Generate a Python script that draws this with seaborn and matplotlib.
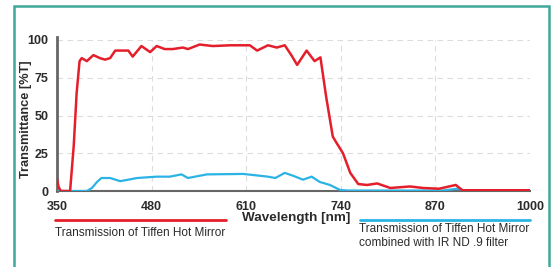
import matplotlib
matplotlib.use("Agg")
import matplotlib.pyplot as plt
import seaborn as sns
import pandas as pd
from matplotlib.lines import Line2D
from matplotlib.patches import Rectangle

# Tiffen Hot Mirror transmission curve
red_wl = [350, 352, 355, 368, 373, 377, 381, 384, 391, 400, 409, 416, 423, 430, 448,
          454, 466, 478, 487, 498, 509, 523, 530, 546, 564, 588, 615, 625, 640, 652,
          663, 672, 680, 693, 704, 712, 720, 729, 734, 743, 753, 764, 776, 790, 808,
          835, 853, 875, 898, 907, 1000]
red_t = [8, 3, 0, 0, 30, 65, 86, 88, 86, 90, 88, 87, 88, 93, 93,
         89, 96, 92, 96, 94, 94, 95, 94, 97, 96, 96.5, 96.5, 93, 96.5, 95,
         96.5, 90, 83.5, 93, 86, 88.5, 62, 36, 32, 25, 12, 4.6, 4, 5, 2,
         3, 2, 1.5, 4, 0.5, 0.5]

# Hot Mirror combined with IR ND .9
blue_wl = [350, 391, 398, 405, 411, 423, 437, 460, 487, 505, 521, 530, 556, 606, 640,
           650, 663, 675, 688, 700, 711, 725, 739, 750, 880, 900, 910, 1000]
blue_t = [0, 0, 2, 6, 8.6, 8.6, 6.5, 8.6, 9.5, 9.5, 11, 8.6, 11, 11.3, 9.5,
          8.6, 12, 10, 7.5, 9.5, 6, 4, 0.7, 0.3, 0.3, 1.5, 0.5, 0.5]

x_ticks = [350, 480, 610, 740, 870, 1000]
y_ticks = [0, 25, 50, 75, 100]

red_label = "Transmission of Tiffen Hot Mirror"
blue_label = "Transmission of Tiffen Hot Mirror\ncombined with IR ND .9 filter"

RED = "#e41f2b"
BLUE = "#2bb3e6"
TEAL = "#3fa89b"
TXT = "#2b2b2b"

sns.set_style("white")
plt.rcParams["font.family"] = ["Liberation Sans Narrow", "Liberation Sans", "DejaVu Sans"]

fig = plt.figure(figsize=(5.56, 2.67), dpi=100)
ax = fig.add_axes([57 / 556, 1 - 191 / 267, 473 / 556, 151 / 267])

red = pd.DataFrame({"wl": red_wl, "t": red_t})
blue = pd.DataFrame({"wl": blue_wl, "t": blue_t})

sns.lineplot(data=blue, x="wl", y="t", color=BLUE, linewidth=1.6, ax=ax,
             sort=False, estimator=None, zorder=3)
sns.lineplot(data=red, x="wl", y="t", color=RED, linewidth=1.8, ax=ax,
             sort=False, estimator=None, zorder=4)

ax.set_xlim(350, 1000)
ax.set_ylim(0, 100)
ax.set_xticks(x_ticks)
ax.set_yticks(y_ticks)
ax.tick_params(axis="both", length=0, labelsize=9, labelcolor=TXT)
ax.tick_params(axis="x", pad=7)
ax.tick_params(axis="y", pad=6)
for lbl in ax.get_xticklabels() + ax.get_yticklabels():
    lbl.set_fontweight("bold")
ax.grid(True, color="#dcdcdc", linestyle=(0, (5, 4)), linewidth=0.8)
ax.set_axisbelow(True)
ax.set_xlabel("")
ax.set_ylabel("")

for s in ["top", "right"]:
    ax.spines[s].set_visible(False)
ax.spines["left"].set_color("#666666")
ax.spines["left"].set_linewidth(2)
ax.spines["bottom"].set_color("#666666")
ax.spines["bottom"].set_linewidth(1.5)
ax.spines["left"].set_bounds(0, 102)

fig.text(296 / 556, 1 - 218 / 267, "Wavelength [nm]", fontsize=9.7, fontweight="bold",
         color=TXT, ha="center", va="center")
fig.text(26 / 556, 1 - 119 / 267, "Transmittance [%T]", fontsize=9.2, fontweight="bold",
         color=TXT, ha="center", va="center", rotation=90)

# legend-like keys below the plot
fig.add_artist(Line2D([55 / 556, 226 / 556], [1 - 220 / 267] * 2, color=RED, linewidth=2))
fig.text(55 / 556, 1 - 233 / 267, red_label, fontsize=8.5, color=TXT, va="center", ha="left")
fig.add_artist(Line2D([360 / 556, 530 / 556], [1 - 220 / 267] * 2, color=BLUE, linewidth=2))
fig.text(359 / 556, 1 - 236 / 267, blue_label, fontsize=8.5, color=TXT, va="center", ha="left",
         linespacing=1.2)

# teal frame
fig.add_artist(Rectangle((14 / 556, -0.1), 535 / 556, 1.1 - 6 / 267, transform=fig.transFigure,
                         fill=False, edgecolor=TEAL, linewidth=1.8))

fig.savefig("out.png", dpi=100)
